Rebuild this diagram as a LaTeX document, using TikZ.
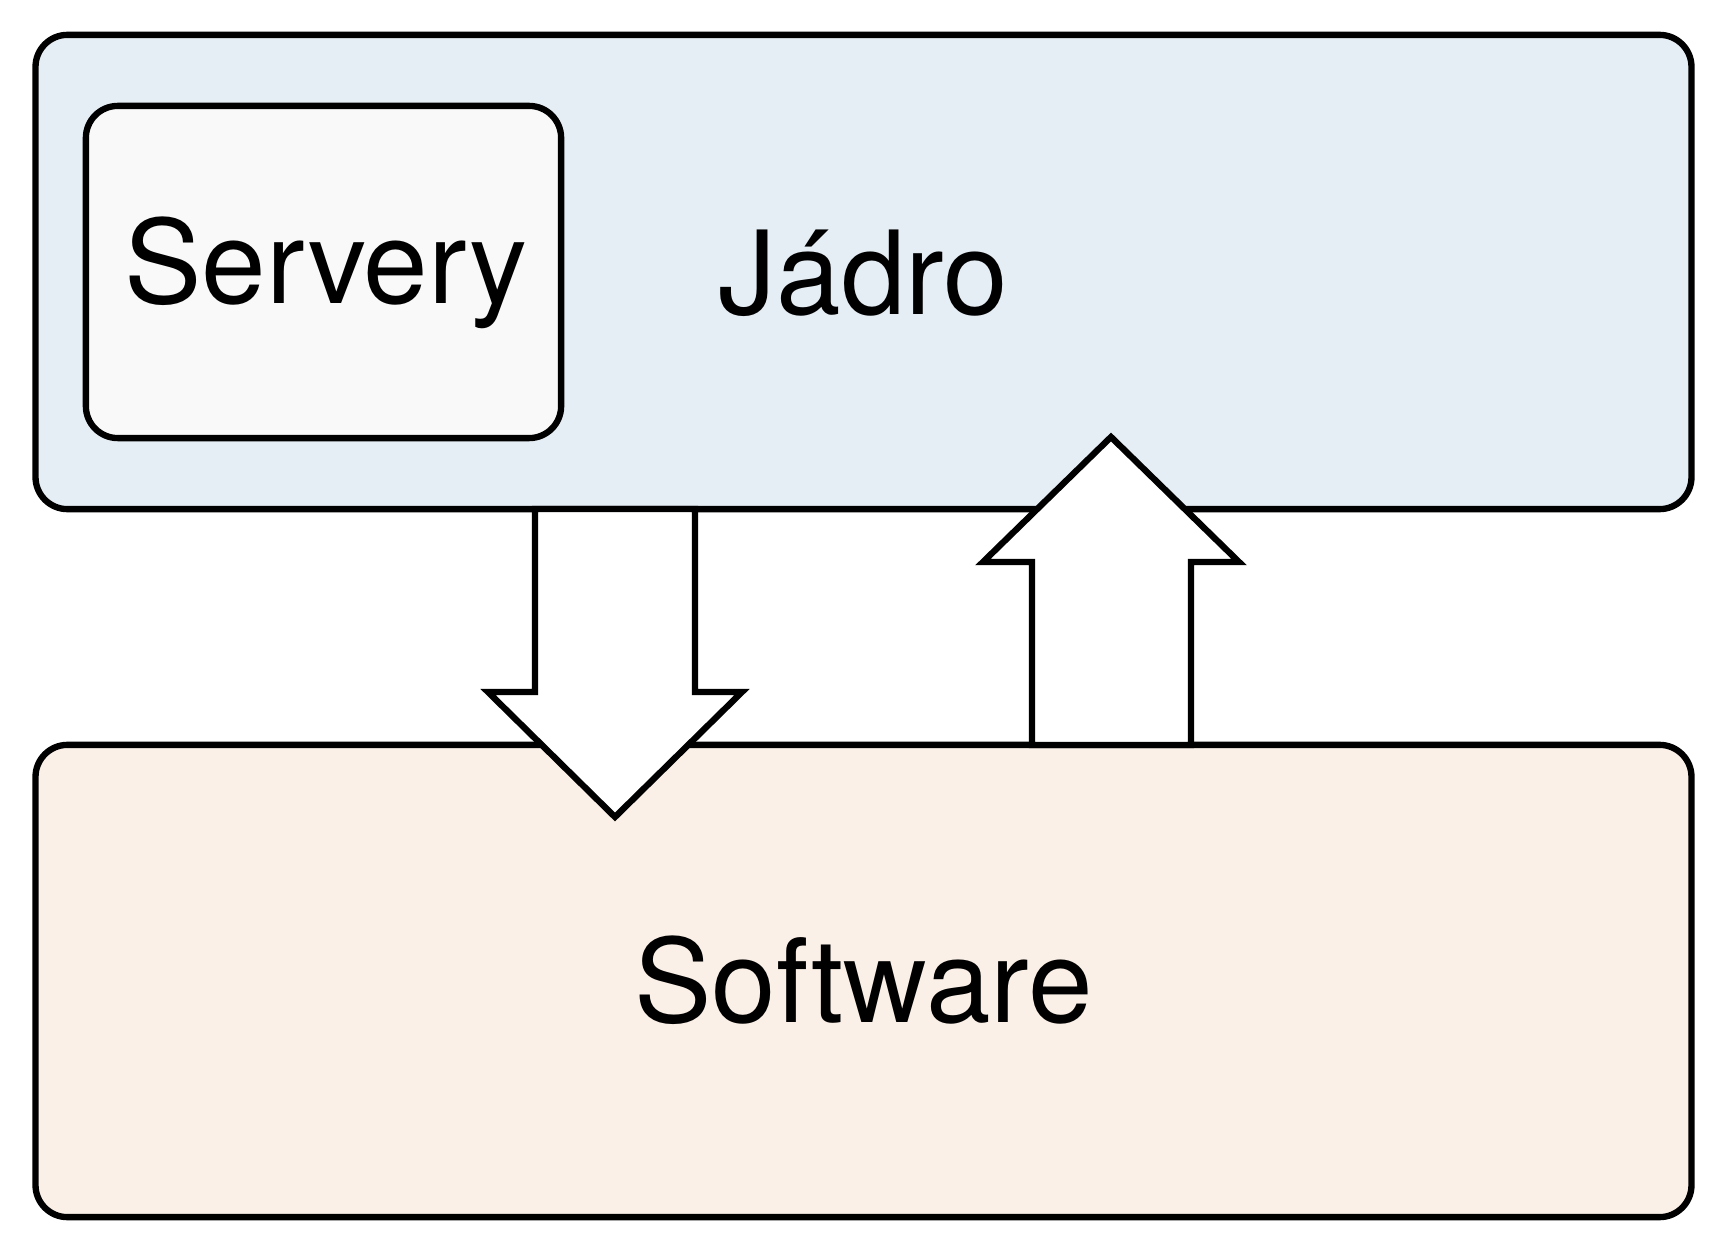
\documentclass[tikz,border=0pt]{standalone}
\usepackage{fontspec}
\setmainfont{TeX Gyre Heros}
\definecolor{jadrofill}{RGB}{230,238,245}
\definecolor{serveryfill}{RGB}{249,249,249}
\definecolor{softfill}{RGB}{250,240,231}
\begin{document}
\begin{tikzpicture}[x=0.01cm,y=-0.01cm,
  box/.style={draw=black, line width=1.8pt, rounded corners=0.32cm, inner sep=0pt, outer sep=0pt},
  bigarrow/.style={draw=black, fill=white, line width=1.8pt, line join=miter},
  lbl/.style={font=\fontsize{33}{40}\selectfont, anchor=base, inner sep=0pt}]
\useasboundingbox (0,0) rectangle (1727,1255);
\node[box, fill=jadrofill, minimum width=16.55cm, minimum height=4.74cm] (jadro) at (863.5,272) {};
\node[box, fill=serveryfill, minimum width=4.75cm, minimum height=3.32cm] (servery) at (323.5,272) {};
\node[box, fill=softfill, minimum width=16.55cm, minimum height=4.72cm] (software) at (863.5,981) {};
% down arrow Jadro -> Software
\draw[bigarrow] (535,509) -- (535,692) -- (488,692) -- (615,817) -- (742,692) -- (695,692) -- (695,509) -- cycle;
% up arrow Software -> Jadro
\draw[bigarrow] (1032,745) -- (1032,562) -- (983,562) -- (1111,437) -- (1239,562) -- (1191,562) -- (1191,745) -- cycle;
\node[lbl] (serverylbl) at (326,304) {Servery};
\node[lbl] (jadrolbl) at (863.5,315) {Jádro};
\node[lbl] (softlbl) at (863.5,1022) {Software};
\end{tikzpicture}
\end{document}
